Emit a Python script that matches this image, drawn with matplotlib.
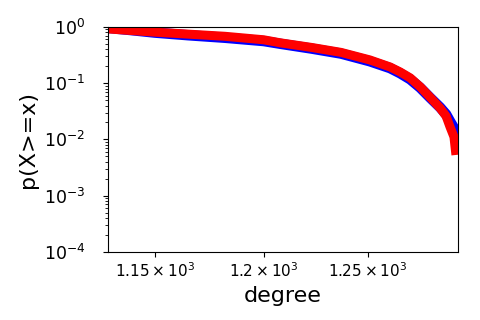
import matplotlib
matplotlib.use('Agg')
import matplotlib.pyplot as plt
from matplotlib.ticker import NullLocator

deg_emp = [1129, 1140, 1150, 1165, 1182, 1200, 1208, 1223, 1237, 1251, 1261,
           1266, 1271, 1276, 1281, 1286, 1289, 1291, 1293, 1295]
p_emp = [0.96, 0.87, 0.79, 0.71, 0.64, 0.56, 0.50, 0.41, 0.335, 0.245, 0.185,
         0.15, 0.117, 0.083, 0.055, 0.037, 0.028, 0.021, 0.016, 0.011]

deg_fit = [1129, 1150, 1182, 1200, 1208, 1223, 1237, 1251, 1261, 1266, 1271,
           1276, 1281, 1286, 1289, 1291, 1293, 1294]
p_fit = [0.92, 0.805, 0.68, 0.59, 0.52, 0.43, 0.352, 0.259, 0.194, 0.158,
         0.124, 0.086, 0.056, 0.036, 0.026, 0.0167, 0.0111, 0.0053]

xticks = [1150, 1200, 1250]
xticklabels = [r'$\mathdefault{1.15\times10^{3}}$',
               r'$\mathdefault{1.2\times10^{3}}$',
               r'$\mathdefault{1.25\times10^{3}}$']

fig = plt.figure(figsize=(4.8, 3.2), dpi=100)
ax = fig.add_axes([0.225, 0.2125, 0.729, 0.7035])

ax.plot(deg_emp, p_emp, color='blue', linewidth=7.5, solid_capstyle='butt')
ax.plot(deg_fit, p_fit, color='red', linewidth=6.5, solid_capstyle='butt')

ax.set_xscale('log')
ax.set_yscale('log')
ax.set_xlim(1129, 1295)
ax.set_ylim(1e-4, 1)

ax.set_xticks(xticks)
ax.set_xticklabels(xticklabels)
ax.xaxis.set_minor_locator(NullLocator())
ax.tick_params(axis='x', labelsize=11)
ax.tick_params(axis='y', which='major', labelsize=12.5, pad=13)

ax.set_xlabel('degree', fontsize=16)
ax.set_ylabel('p(X>=x)', fontsize=16)

fig.savefig('out.png', dpi=100)
